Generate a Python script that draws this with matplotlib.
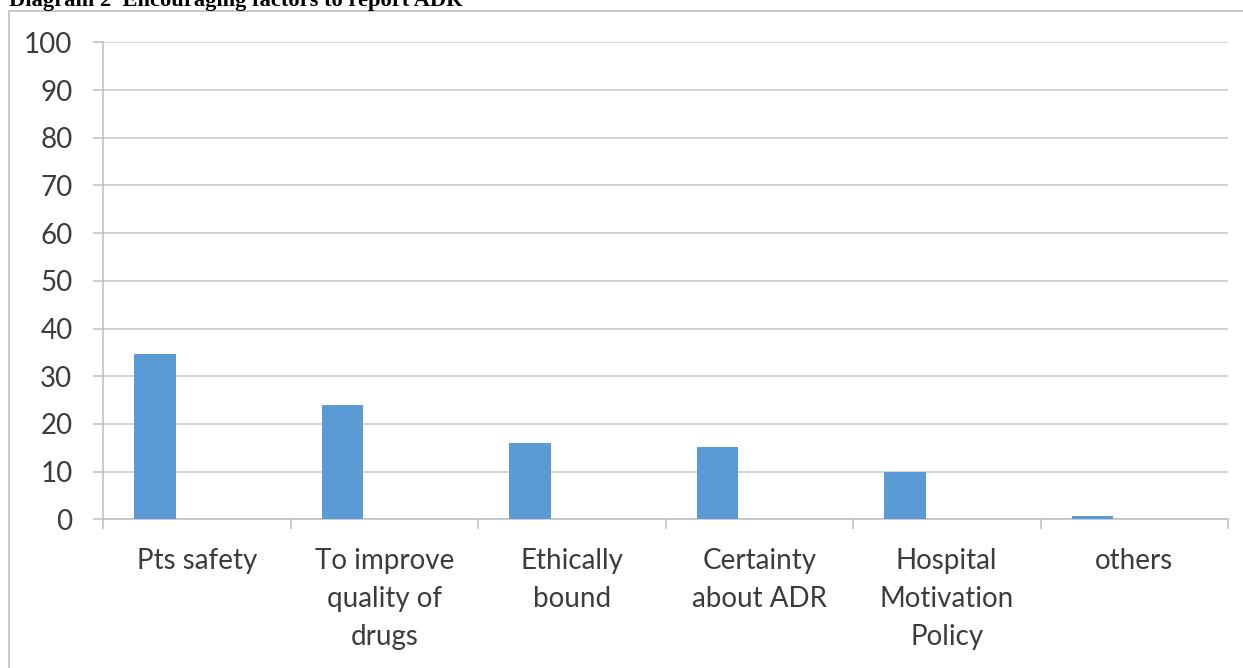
import matplotlib
matplotlib.use("Agg")
import matplotlib.pyplot as plt
from matplotlib.patches import Rectangle
import numpy as np

categories = [
    "Pts safety",
    "To improve\nquality of\ndrugs",
    "Ethically\nbound",
    "Certainty\nabout ADR",
    "Hospital\nMotivation\nPolicy",
    "others",
]
values = [34.6, 24.0, 16.0, 15.2, 10.0, 0.6]
y_ticks = [0, 10, 20, 30, 40, 50, 60, 70, 80, 90, 100]
title = "Diagram 2  Encouraging factors to report ADR"

W, H, DPI = 1243, 668, 100
fig = plt.figure(figsize=(W / DPI, H / DPI), dpi=DPI)
fig.patch.set_facecolor("white")

# chart frame
fig.patches.append(Rectangle((9 / W, -0.1), 1.2, 1.1 - 11 / H, transform=fig.transFigure,
                             fill=False, edgecolor="#bfbfbf", linewidth=1.2))

# caption above the frame
fig.text(9 / W, 1 - 6 / H, title, fontfamily="Liberation Serif", fontweight="bold",
         fontsize=16.2, color="black", ha="left", va="baseline")

left, right = 103 / W, 1228 / W
bottom, top = 1 - 519.3 / H, 1 - 42.3 / H
ax = fig.add_axes([left, bottom, right - left, top - bottom])

# clustered-bar slot geometry: three series per category, gap width 150%
slot = 1 / 4.5
x = np.arange(len(categories))
ax.bar(x - slot, values, width=slot, color="#5B9BD5", zorder=3)

ax.set_xlim(-0.5, len(categories) - 0.5)
ax.set_ylim(0, 100)
ax.set_yticks(y_ticks)
ax.set_yticklabels([str(v) for v in y_ticks], fontfamily="Lato", fontsize=20, color="#3c3c3c")
ax.yaxis.grid(True, color="#c6c6c6", linewidth=1.1, zorder=0)

ax.set_xticks(x)
ax.set_xticklabels(categories, fontfamily="Lato", fontsize=20, color="#3c3c3c",
                   linespacing=1.58, ha="center", va="top")
ax.set_xticks(np.arange(-0.5, len(categories)), minor=True)
ax.tick_params(axis="x", which="major", length=0, pad=20.5)
ax.tick_params(axis="x", which="minor", length=7, color="#bfbfbf", width=1.1)
ax.tick_params(axis="y", length=7, color="#bfbfbf", width=1.1, pad=15)

for s in ["top", "right"]:
    ax.spines[s].set_visible(False)
ax.spines["left"].set_color("#bfbfbf")
ax.spines["bottom"].set_color("#bfbfbf")
ax.spines["left"].set_linewidth(1.1)
ax.spines["bottom"].set_linewidth(1.1)

fig.savefig("out.png", dpi=DPI)
